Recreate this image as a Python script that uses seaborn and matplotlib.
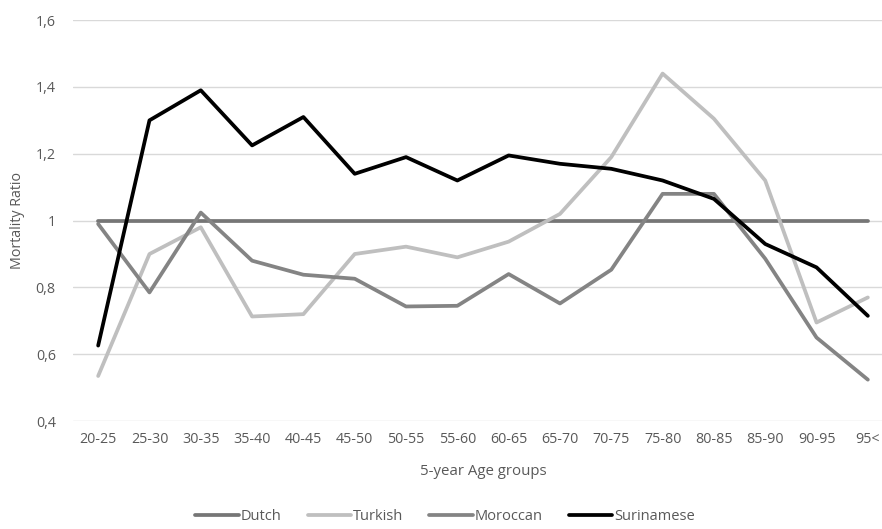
import matplotlib
matplotlib.use("Agg")
import matplotlib.pyplot as plt
import seaborn as sns
import pandas as pd

age_groups = ["20-25", "25-30", "30-35", "35-40", "40-45", "45-50", "50-55", "55-60",
              "60-65", "65-70", "70-75", "75-80", "80-85", "85-90", "90-95", "95<"]
dutch = [1.0] * 16
turkish = [0.535, 0.90, 0.98, 0.713, 0.72, 0.90, 0.922, 0.89, 0.937, 1.02, 1.19, 1.44,
           1.305, 1.12, 0.695, 0.77]
moroccan = [0.99, 0.785, 1.024, 0.88, 0.838, 0.826, 0.743, 0.745, 0.84, 0.752, 0.853,
            1.08, 1.08, 0.886, 0.65, 0.524]
surinamese = [0.626, 1.30, 1.39, 1.225, 1.31, 1.14, 1.19, 1.12, 1.195, 1.17, 1.155, 1.12,
              1.065, 0.93, 0.86, 0.715]

series = {"Dutch": dutch, "Turkish": turkish, "Moroccan": moroccan, "Surinamese": surinamese}
colors = {"Dutch": "#767676", "Turkish": "#BFBFBF", "Moroccan": "#848484", "Surinamese": "#000000"}

rows = []
for name, vals in series.items():
    for i, v in enumerate(vals):
        rows.append({"idx": i, "value": v, "group": name})
df = pd.DataFrame(rows)

sns.set_style("white")
plt.rcParams["font.family"] = ["Open Sans", "DejaVu Sans"]

fig = plt.figure(figsize=(8.82, 5.29), dpi=100)
# plot area extends slightly past the right edge, as in the reference
ax = fig.add_axes([72.5 / 882, 0.204, 821 / 882, 0.758])

sns.lineplot(data=df, x="idx", y="value", hue="group", hue_order=list(series.keys()),
             palette=colors, linewidth=2.7, ax=ax, legend=True, sort=False)

ax.set_xlim(-0.5, 15.5)
ax.set_ylim(0.4, 1.6)
ax.set_yticks([0.4, 0.6, 0.8, 1.0, 1.2, 1.4, 1.6])
ax.set_yticklabels(["0,4", "0,6", "0,8", "1", "1,2", "1,4", "1,6"])
ax.set_xticks(range(16))
ax.set_xticklabels(age_groups)
ax.tick_params(axis="both", length=0, labelsize=10.3, colors="#595959")
ax.tick_params(axis="x", pad=8)
ax.tick_params(axis="y", pad=12)
ax.yaxis.grid(True, color="#D9D9D9", linewidth=1)
ax.set_axisbelow(True)
for s in ["top", "right", "left", "bottom"]:
    ax.spines[s].set_visible(False)

ax.set_xlabel("5-year Age groups", fontsize=10.8, color="#595959", labelpad=12)
ax.set_ylabel("Mortality Ratio", fontsize=10.3, color="#595959", labelpad=8)

handles, labels = ax.get_legend_handles_labels()
ax.legend(handles, labels, loc="center", bbox_to_anchor=(372.5 / 821, -0.237), ncol=4,
          frameon=False, fontsize=10.5, handlelength=3.0, handletextpad=0.1,
          columnspacing=1.8, labelcolor="#595959")

fig.savefig("out.png", dpi=100)
